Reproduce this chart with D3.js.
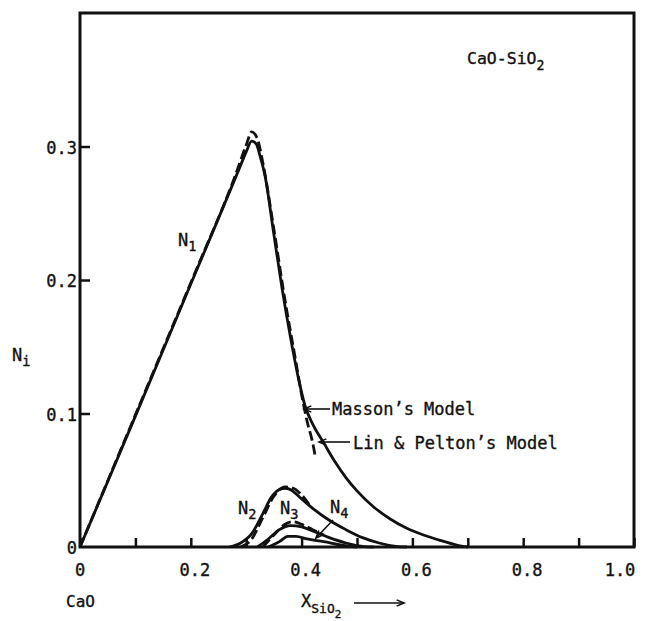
<!DOCTYPE html>
<html>
<head>
<meta charset="utf-8">
<script src="https://cdn.jsdelivr.net/npm/d3@7"></script>
<style>
  body { margin: 0; background: #fff; }
  text { font-family: 'DejaVu Sans Mono', monospace; fill: #111; stroke: #111; stroke-width: 0.35px; }
</style>
</head>
<body>
<svg id="chart"></svg>
<script>
// Lin & Pelton's model (solid) and Masson's model (dashed), CaO-SiO2
const n1Lin = [[0, 0], [0.1, 0.098], [0.2, 0.197], [0.27, 0.266], [0.29, 0.286], [0.30, 0.296],
  [0.31, 0.304], [0.318, 0.302], [0.325, 0.293], [0.334, 0.278], [0.35, 0.234], [0.365, 0.193],
  [0.38, 0.157], [0.395, 0.125], [0.406, 0.106], [0.42, 0.092], [0.44, 0.078], [0.46, 0.064],
  [0.48, 0.052], [0.50, 0.042], [0.53, 0.030], [0.56, 0.021], [0.59, 0.014], [0.62, 0.009],
  [0.65, 0.005], [0.68, 0.0015], [0.70, 0]];
const n1Masson = [[0, 0], [0.1, 0.099], [0.2, 0.198], [0.28, 0.278], [0.30, 0.301], [0.31, 0.311],
  [0.32, 0.306], [0.33, 0.288], [0.35, 0.238], [0.37, 0.185], [0.39, 0.138], [0.40, 0.114],
  [0.41, 0.094], [0.42, 0.078], [0.425, 0.067]];
const n2Lin = [[0.27, 0], [0.29, 0.003], [0.31, 0.01], [0.33, 0.025], [0.345, 0.037], [0.36, 0.043],
  [0.37, 0.044], [0.38, 0.043], [0.40, 0.036], [0.42, 0.029], [0.45, 0.020], [0.48, 0.013],
  [0.51, 0.007], [0.54, 0.003], [0.57, 0.0005], [0.59, 0]];
const n2Masson = [[0.29, 0], [0.31, 0.006], [0.33, 0.022], [0.35, 0.038], [0.37, 0.045],
  [0.385, 0.044], [0.40, 0.039], [0.415, 0.031]];
const n3Lin = [[0.32, 0], [0.34, 0.006], [0.36, 0.013], [0.38, 0.016], [0.40, 0.015], [0.42, 0.012],
  [0.45, 0.007], [0.48, 0.003], [0.51, 0.0005], [0.53, 0]];
const n3Masson = [[0.33, 0], [0.35, 0.009], [0.37, 0.017], [0.385, 0.019], [0.40, 0.017],
  [0.42, 0.013], [0.44, 0.009]];
const n4Lin = [[0.34, 0], [0.36, 0.004], [0.375, 0.008], [0.39, 0.008], [0.41, 0.006],
  [0.44, 0.004], [0.47, 0.0015], [0.50, 0]];

const xTicks = [0, 0.1, 0.2, 0.3, 0.4, 0.5, 0.6, 0.7, 0.8, 0.9, 1.0];
const xLabels = ['0', '0.2', '0.4', '0.6', '0.8', '1.0'];
const yTicks = [0.1, 0.2, 0.3];
const yLabels = ['0', '0.1', '0.2', '0.3'];

const width = 651;
const height = 621;

const svg = d3.select('#chart').
  attr('width', width).
  attr('height', height);

const x = d3.scaleLinear().domain([0, 1]).range([80, 634]);
const y = d3.scaleLinear().domain([0, 0.4]).range([547, 13]);

const line = d3.line().
  x(d => x(d[0])).
  y(d => y(d[1])).
  curve(d3.curveMonotoneX);

// frame
svg.append('rect').
  attr('x', x(0)).
  attr('y', y(0.4)).
  attr('width', x(1) - x(0)).
  attr('height', y(0) - y(0.4)).
  attr('fill', 'none').
  attr('stroke', '#111').
  attr('stroke-width', 3);

// inward ticks
svg.append('g').
  attr('transform', `translate(0,${y(0)})`).
  call(d3.axisTop(x).tickValues(xTicks).tickSize(9).tickFormat('')).
  call(g => g.select('.domain').remove()).
  call(g => g.selectAll('line').attr('stroke', '#111').attr('stroke-width', 2.5));

svg.append('g').
  attr('transform', `translate(${x(0)},0)`).
  call(d3.axisRight(y).tickValues(yTicks).tickSize(10).tickFormat('')).
  call(g => g.select('.domain').remove()).
  call(g => g.selectAll('line').attr('stroke', '#111').attr('stroke-width', 2.5));

// tick labels (the 1.0 label sits inside the frame's right edge)
svg.selectAll('.xlab').
  data(xLabels).
  enter().
  append('text').
  attr('x', d => +d === 1 ? x(1) - 14 : x(+d) + (+d === 0 ? 0 : 4)).
  attr('y', 576).
  attr('text-anchor', 'middle').
  style('font-size', '17px').
  text(d => d);

svg.selectAll('.ylab').
  data(yLabels).
  enter().
  append('text').
  attr('x', x(0) - 3).
  attr('y', d => y(+d) + 7).
  attr('text-anchor', 'end').
  style('font-size', '17px').
  text(d => d);

// curves
const curves = [
  { data: n1Lin, dash: null },
  { data: n1Masson, dash: '10,4' },
  { data: n2Lin, dash: null },
  { data: n2Masson, dash: '10,4' },
  { data: n3Lin, dash: null },
  { data: n3Masson, dash: '10,4' },
  { data: n4Lin, dash: null },
];

svg.selectAll('.curve').
  data(curves).
  enter().
  append('path').
  attr('d', d => line(d.data)).
  attr('fill', 'none').
  attr('stroke', '#111').
  attr('stroke-width', 2.8).
  attr('stroke-dasharray', d => d.dash);

// subscripted labels
function subLabel(px, py, main, sub, size, subDy) {
  const t = svg.append('text').
    attr('x', px).
    attr('y', py).
    style('font-size', size + 'px');
  t.append('tspan').text(main);
  t.append('tspan').
    attr('dy', subDy).
    style('font-size', (size * 0.8) + 'px').
    text(sub);
  return t;
}

subLabel(178, 246, 'N', '1', 17, 5);
subLabel(12, 361, 'N', 'i', 17, 5);
subLabel(238, 514, 'N', '2', 17, 5);
subLabel(280, 514, 'N', '3', 17, 5);
subLabel(330, 513, 'N', '4', 17, 5);
subLabel(467, 64, 'CaO-SiO', '2', 16.5, 6);

svg.append('text').
  attr('x', 66).
  attr('y', 607).
  style('font-size', '16px').
  text('CaO');

const xt = svg.append('text').
  attr('x', 301).
  attr('y', 607).
  style('font-size', '17px');
xt.append('tspan').text('X');
xt.append('tspan').attr('dy', 6).style('font-size', '13px').text('SiO');
xt.append('tspan').attr('dy', 5).style('font-size', '11px').text('2');

// arrows
const arrows = [
  [[404, 603], [354, 603]],
  [[330, 409], [304, 409]],
  [[350, 442], [319, 442]],
  [[333, 520], [316, 538]],
];

function arrow(a) {
  const [p0, p1] = a;
  const ang = Math.atan2(p1[1] - p0[1], p1[0] - p0[0]);
  const head = 8;
  svg.append('line').
    attr('x1', p0[0]).attr('y1', p0[1]).
    attr('x2', p1[0]).attr('y2', p1[1]).
    attr('stroke', '#111').attr('stroke-width', 1.6);
  const tip = a === arrows[0] ? p0 : p1;
  const dir = a === arrows[0] ? ang + Math.PI : ang;
  svg.append('path').
    attr('d', d3.line()([
      [tip[0] - head * Math.cos(dir - 0.4), tip[1] - head * Math.sin(dir - 0.4)],
      tip,
      [tip[0] - head * Math.cos(dir + 0.4), tip[1] - head * Math.sin(dir + 0.4)],
    ])).
    attr('fill', 'none').
    attr('stroke', '#111').
    attr('stroke-width', 1.6);
}
arrows.forEach(arrow);

svg.append('text').
  attr('x', 332).
  attr('y', 415).
  style('font-size', '17px').
  text('Masson\u2019s Model');

svg.append('text').
  attr('x', 353).
  attr('y', 449).
  style('font-size', '17px').
  text('Lin & Pelton\u2019s Model');
</script>
</body>
</html>
